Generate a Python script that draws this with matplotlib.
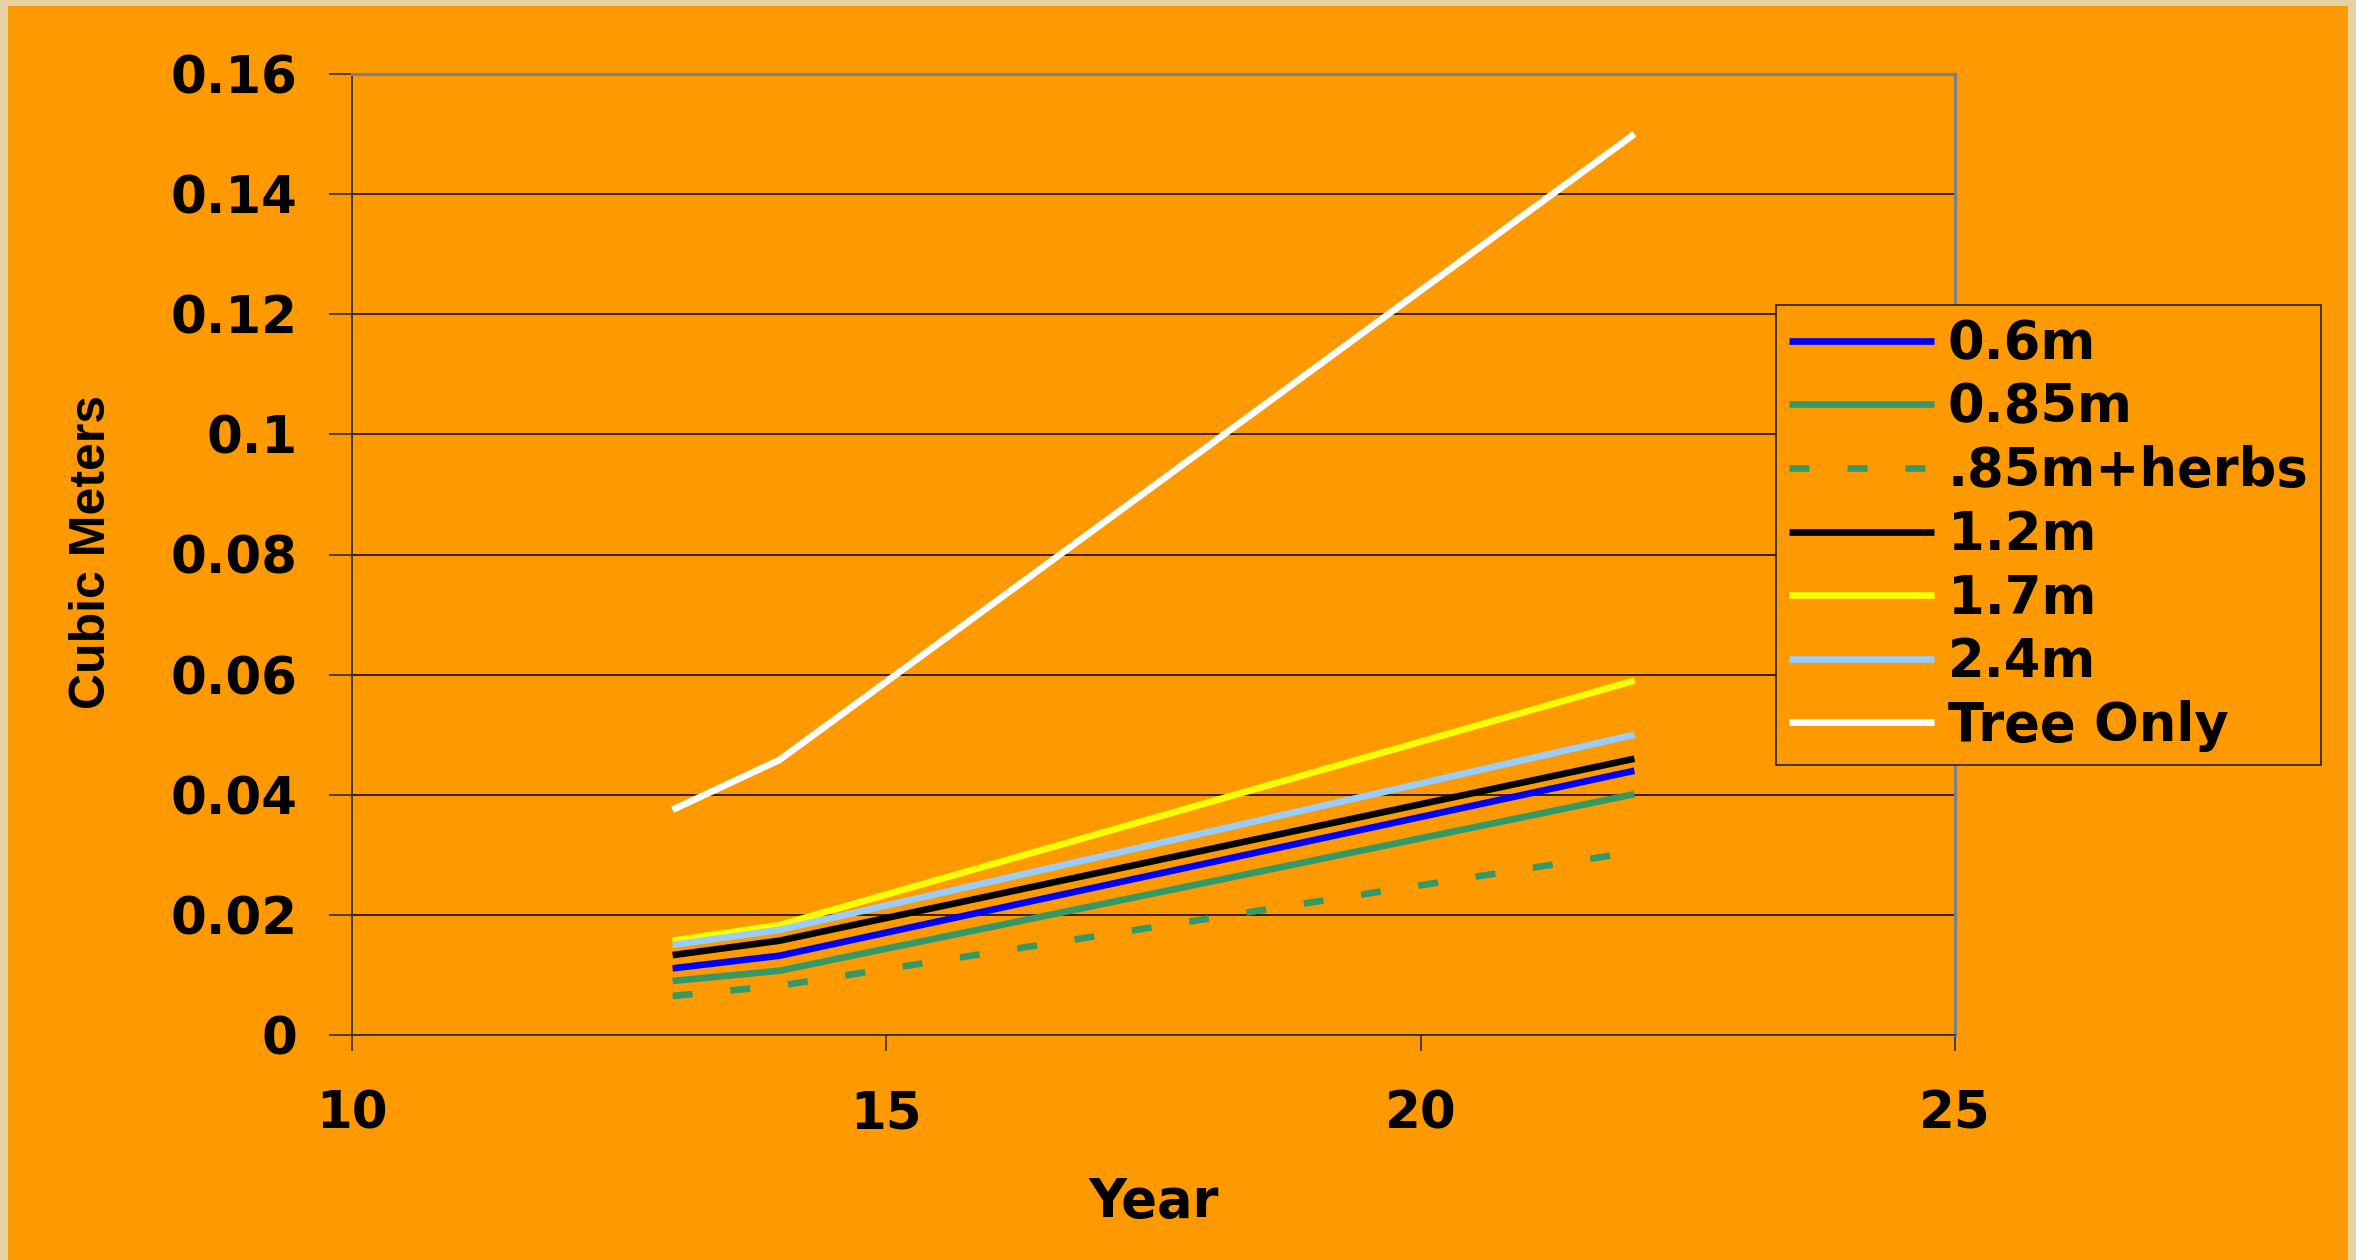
import matplotlib
matplotlib.use("Agg")
import matplotlib.pyplot as plt
from matplotlib import font_manager
from matplotlib.patches import Rectangle

# Stem volume by planting spacing
years = [13, 14, 22]
v_06 = [0.0111, 0.0132, 0.0440]
v_085 = [0.0090, 0.0107, 0.0401]
v_085_herbs = [0.0065, 0.0082, 0.0305]
v_12 = [0.0133, 0.0157, 0.0460]
v_17 = [0.0157, 0.0183, 0.0590]
v_24 = [0.0150, 0.0175, 0.0500]
tree_only = [0.0375, 0.0458, 0.1500]

labels = ["0.6m", "0.85m", ".85m+herbs", "1.2m", "1.7m", "2.4m", "Tree Only"]
colors = ["#0000FF", "#339966", "#339966", "#000000", "#FFFF00", "#99CCFF", "#FFFFFF"]

xticks = [10, 15, 20, 25]
yticks = [0, 0.02, 0.04, 0.06, 0.08, 0.1, 0.12, 0.14, 0.16]
ytick_labels = ["0", "0.02", "0.04", "0.06", "0.08", "0.1", "0.12", "0.14", "0.16"]

ORANGE = "#FF9900"

plt.rcParams["font.family"] = "DejaVu Sans"
plt.rcParams["font.weight"] = "bold"

fig = plt.figure(figsize=(23.56, 12.6), dpi=100, facecolor="#E6D2A2")
# orange panel inside the parchment edge
fig.add_artist(Rectangle((8 / 2356, 0), 2340 / 2356, 1 - 6 / 1260,
                         transform=fig.transFigure, facecolor=ORANGE,
                         edgecolor="none", zorder=0))

ax = fig.add_axes([352 / 2356, 225 / 1260, 1603 / 2356, 961 / 1260])
ax.set_facecolor(ORANGE)

series = [v_06, v_085, v_085_herbs, v_12, v_17, v_24, tree_only]
lw = 4.8
for vals, lab, col in zip(series, labels, colors):
    if lab.startswith(".85m+"):
        ax.plot(years, vals, color=col, lw=lw, label=lab,
                linestyle=(0, (3.0, 5.7)), dash_capstyle="butt")
    else:
        ax.plot(years, vals, color=col, lw=lw, label=lab,
                solid_capstyle="butt")

ax.set_xlim(10, 25)
ax.set_ylim(0, 0.16)
ax.set_xticks(xticks)
ax.set_yticks(yticks)
ax.set_yticklabels(ytick_labels)

ax.grid(axis="y", color="black", lw=1.1)
ax.set_axisbelow(True)

for side in ["top", "right"]:
    ax.spines[side].set_color("#808080")
    ax.spines[side].set_linewidth(2.3)
for side in ["left", "bottom"]:
    ax.spines[side].set_color("#333333")
    ax.spines[side].set_linewidth(1.3)

ax.tick_params(axis="y", direction="out", length=16.5, width=1.1,
               color="#222222", pad=23, labelsize=37)
ax.tick_params(axis="x", direction="out", length=11.5, width=1.1,
               color="#222222", pad=28, labelsize=37)

ax.set_xlabel("Year", fontsize=38, fontweight="bold")
ax.xaxis.set_label_coords(0.5, -0.147)

installed = {f.name for f in font_manager.fontManager.ttflist}
if "Liberation Sans Narrow" in installed:
    yfont, ysize = "Liberation Sans Narrow", 45
else:
    yfont, ysize = "Liberation Sans", 36
fig.text(92 / 2356, 1 - 552 / 1260, "Cubic Meters", rotation=90,
         ha="center", va="center", fontsize=ysize, fontweight="bold",
         family=yfont)

leg = ax.legend(loc="upper left", bbox_to_anchor=(1776 / 2356, 1 - 305 / 1260),
                bbox_transform=fig.transFigure, fontsize=38,
                handlelength=2.75, handletextpad=0.25, labelspacing=0.22,
                borderpad=0.25, borderaxespad=0, fancybox=False,
                framealpha=1, facecolor=ORANGE, edgecolor="#222222")
leg.get_frame().set_linewidth(1.2)

fig.savefig("out.png", dpi=100, facecolor=fig.get_facecolor())
